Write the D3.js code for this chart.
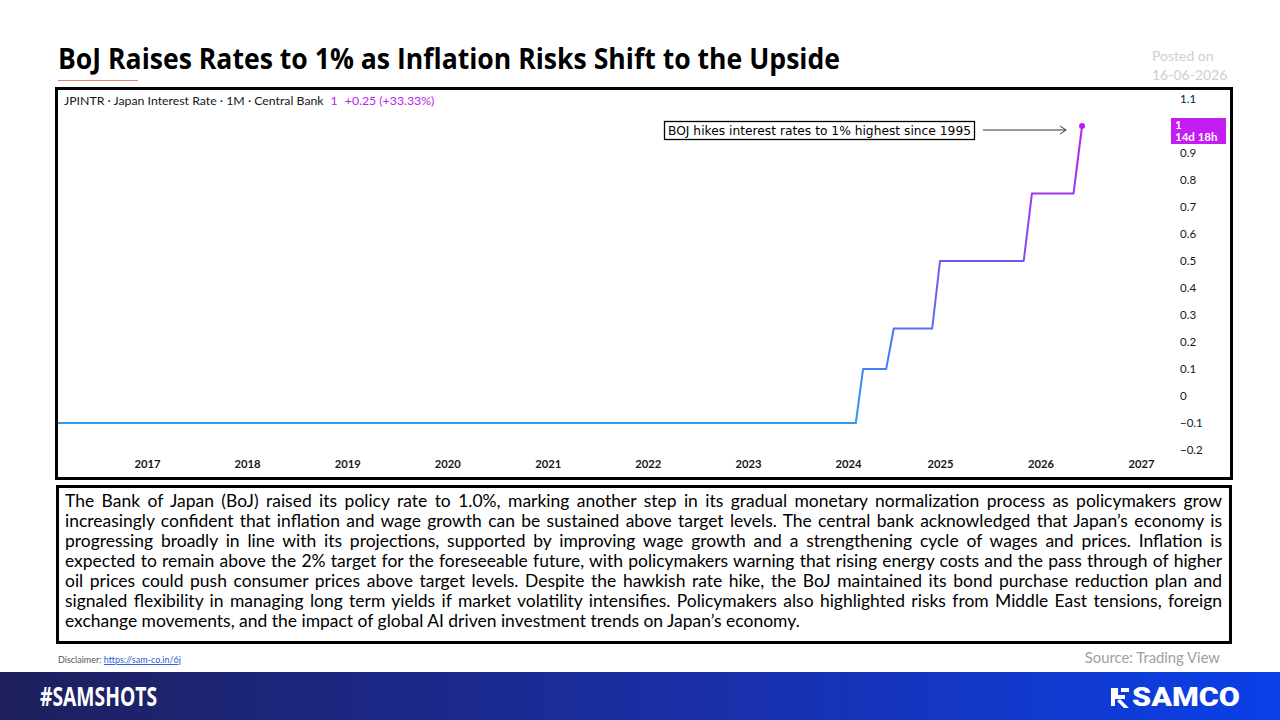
<!DOCTYPE html>
<html>
<head>
<meta charset="utf-8">
<script src="https://cdn.jsdelivr.net/npm/d3@7"></script>
<style>
  body { margin: 0; width: 1280px; height: 720px; overflow: hidden; background: #fff; position: relative; }
  svg { position: absolute; left: 0; top: 0; }
  #para { position: absolute; left: 65px; top: 491px; width: 1157px; font-family: Lato, "Open Sans", sans-serif; font-size: 17px; line-height: 20px; color: #000; }
  #para div { text-align: justify; text-align-last: justify; white-space: nowrap; }
  #para div.last { text-align-last: left; }
</style>
</head>
<body>
<div id="para"></div>
<script>
// monthly points where the rate changes
var rateDates = ["2016-02", "2024-02", "2024-03", "2024-06", "2024-07", "2024-12", "2025-01", "2025-11", "2025-12", "2026-05", "2026-06"];
var rateValues = [-0.1, -0.1, 0.1, 0.1, 0.25, 0.25, 0.5, 0.5, 0.75, 0.75, 1.0];
var yearTicks = ["2017", "2018", "2019", "2020", "2021", "2022", "2023", "2024", "2025", "2026", "2027"];
var rateTicks = [1.1, 0.9, 0.8, 0.7, 0.6, 0.5, 0.4, 0.3, 0.2, 0.1, 0, -0.1, -0.2];

var paraLines = [
  "The Bank of Japan (BoJ) raised its policy rate to 1.0%, marking another step in its gradual monetary normalization process as policymakers grow",
  "increasingly confident that inflation and wage growth can be sustained above target levels. The central bank acknowledged that Japan\u2019s economy is",
  "progressing broadly in line with its projections, supported by improving wage growth and a strengthening cycle of wages and prices. Inflation is",
  "expected to remain above the 2% target for the foreseeable future, with policymakers warning that rising energy costs and the pass through of higher",
  "oil prices could push consumer prices above target levels. Despite the hawkish rate hike, the BoJ maintained its bond purchase reduction plan and",
  "signaled flexibility in managing long term yields if market volatility intensifies. Policymakers also highlighted risks from Middle East tensions, foreign",
  "exchange movements, and the impact of global AI driven investment trends on Japan\u2019s economy."
];

var parseMonth = d3.timeParse("%Y-%m");
var parseYear = d3.timeParse("%Y");
var data = rateDates.map(function(d, i) { return { date: parseMonth(d), value: rateValues[i] }; });

var svg = d3.select("body").append("svg")
  .attr("width", 1280)
  .attr("height", 720);

var defs = svg.append("defs");

// title (squeezed to look like the condensed face of the original)
svg.append("text")
  .attr("x", 58).attr("y", 69)
  .attr("font-family", "'Open Sans', sans-serif")
  .attr("font-weight", "bold")
  .attr("font-size", 28)
  .attr("textLength", 782)
  .attr("lengthAdjust", "spacingAndGlyphs")
  .attr("fill", "#000")
  .text("BoJ Raises Rates to 1% as Inflation Risks Shift to the Upside");

svg.append("line")
  .attr("x1", 58).attr("x2", 138).attr("y1", 80.5).attr("y2", 80.5)
  .attr("stroke", "#e0866a").attr("stroke-width", 1.2);

svg.append("text")
  .attr("x", 1152).attr("y", 61)
  .attr("font-family", "Lato, sans-serif").attr("font-size", 14)
  .attr("fill", "#cfcfcf").text("Posted on");
svg.append("text")
  .attr("x", 1152).attr("y", 80)
  .attr("font-family", "Lato, sans-serif").attr("font-size", 14)
  .attr("fill", "#cfcfcf").text("16-06-2026");

// scales
var x = d3.scaleTime()
  .domain([parseYear("2017"), parseYear("2024"), parseYear("2025"), parseYear("2027")])
  .range([147, 848, 940, 1141]);
var y = d3.scaleLinear().domain([-0.2, 1.1]).range([450, 99]);

defs.append("clipPath").attr("id", "plotclip")
  .append("rect").attr("x", 58).attr("y", 90).attr("width", 1110).attr("height", 386);

var grad = defs.append("linearGradient")
  .attr("id", "lineGrad")
  .attr("gradientUnits", "userSpaceOnUse")
  .attr("x1", 0).attr("x2", 0)
  .attr("y1", y(-0.1)).attr("y2", y(1.0));
grad.append("stop").attr("offset", "0%").attr("stop-color", "#2a9df4");
grad.append("stop").attr("offset", "45%").attr("stop-color", "#6a5cf2");
grad.append("stop").attr("offset", "100%").attr("stop-color", "#c21cf2");

// chart frame
svg.append("rect")
  .attr("x", 56.5).attr("y", 88.5).attr("width", 1175).attr("height", 390)
  .attr("fill", "none").attr("stroke", "#000").attr("stroke-width", 3);

// legend line
var legend = svg.append("text")
  .attr("x", 64).attr("y", 105)
  .attr("font-family", "Lato, sans-serif").attr("font-size", 12.3)
  .attr("fill", "#131722");
legend.append("tspan").text("JPINTR \u00b7 Japan Interest Rate \u00b7 1M \u00b7 Central Bank");
legend.append("tspan").attr("fill", "#b81ee8").attr("dx", 7).text("1");
legend.append("tspan").attr("fill", "#b81ee8").attr("dx", 7).text("+0.25 (+33.33%)");

// axes
var xAxis = svg.append("g")
  .attr("transform", "translate(0,455)")
  .call(d3.axisBottom(x)
    .tickValues(yearTicks.map(function(d) { return parseYear(d); }))
    .tickFormat(d3.timeFormat("%Y"))
    .tickSize(0).tickPadding(5));
xAxis.select(".domain").remove();
xAxis.selectAll("text")
  .attr("font-family", "Lato, sans-serif")
  .attr("font-weight", "bold")
  .attr("font-size", 11.5)
  .attr("textLength", 26)
  .attr("lengthAdjust", "spacingAndGlyphs")
  .attr("fill", "#131722");

var yAxis = svg.append("g")
  .attr("transform", "translate(1172,0)")
  .call(d3.axisRight(y)
    .tickValues(rateTicks)
    .tickFormat(d3.format(".1~f"))
    .tickSize(0).tickPadding(8));
yAxis.select(".domain").remove();
yAxis.selectAll("text")
  .attr("font-family", "Lato, sans-serif")
  .attr("font-size", 11.5)
  .attr("fill", "#131722");

// rate line
var line = d3.line()
  .x(function(d) { return x(d.date); })
  .y(function(d) { return y(d.value); });

svg.append("path")
  .datum(data)
  .attr("clip-path", "url(#plotclip)")
  .attr("d", line)
  .attr("fill", "none")
  .attr("stroke", "url(#lineGrad)")
  .attr("stroke-width", 2)
  .attr("stroke-linejoin", "round");

var last = data[data.length - 1];
svg.append("circle")
  .attr("cx", x(last.date)).attr("cy", y(last.value))
  .attr("r", 3).attr("fill", "#c21cf2");

// price label on the axis
var tag = svg.append("g").attr("transform", "translate(1171," + (y(last.value) - 8) + ")");
tag.append("rect").attr("width", 55).attr("height", 26).attr("fill", "#c41cf5");
tag.append("text").attr("x", 4).attr("y", 11)
  .attr("font-family", "Lato, sans-serif").attr("font-weight", "bold")
  .attr("font-size", 11.5).attr("fill", "#fff").text(d3.format("~g")(last.value));
tag.append("text").attr("x", 4).attr("y", 23)
  .attr("font-family", "Lato, sans-serif").attr("font-weight", "bold")
  .attr("font-size", 11.5).attr("fill", "#fff").text("14d 18h");

// annotation
var ann = svg.append("g");
ann.append("text")
  .attr("x", 668).attr("y", 135)
  .attr("font-family", "'DejaVu Sans', Verdana, sans-serif")
  .attr("font-size", 12.4)
  .attr("textLength", 303)
  .attr("lengthAdjust", "spacingAndGlyphs")
  .attr("fill", "#000")
  .text("BOJ hikes interest rates to 1% highest since 1995");
ann.append("rect")
  .attr("x", 664.5).attr("y", 121.5).attr("width", 310).attr("height", 18)
  .attr("fill", "none").attr("stroke", "#000").attr("stroke-width", 1.3);
var ax0 = 983, ax1 = x(last.date) - 16, ay = y(last.value) + 4;
ann.append("line")
  .attr("x1", ax0).attr("x2", ax1).attr("y1", ay).attr("y2", ay)
  .attr("stroke", "#333").attr("stroke-width", 1);
ann.append("path")
  .attr("d", "M" + (ax1 - 6) + "," + (ay - 4) + "L" + ax1 + "," + ay + "L" + (ax1 - 6) + "," + (ay + 4))
  .attr("fill", "none").attr("stroke", "#333").attr("stroke-width", 1);

// text box
svg.append("rect")
  .attr("x", 57.5).attr("y", 486.5).attr("width", 1173).attr("height", 156)
  .attr("fill", "none").attr("stroke", "#000").attr("stroke-width", 3);

// pick the paragraph size so that the lines fit the box like the original
var ctx = document.createElement("canvas").getContext("2d");
ctx.font = "17px Lato";
var widest = d3.max(paraLines.slice(0, -1), function(d) { return ctx.measureText(d).width; });
var lastW = ctx.measureText(paraLines[paraLines.length - 1]).width;
var paraSize = Math.min(17 * 737 / lastW, 17 * 1150 / widest);
d3.select("#para").style("font-size", paraSize + "px");

d3.select("#para").selectAll("div")
  .data(paraLines)
  .enter().append("div")
  .attr("class", function(d, i) { return i === paraLines.length - 1 ? "last" : null; })
  .text(function(d) { return d; });

// disclaimer + source
var disc = svg.append("text")
  .attr("x", 58).attr("y", 663)
  .attr("font-family", "Lato, sans-serif")
  .attr("font-size", 9.5).attr("fill", "#555")
  .attr("textLength", 123)
  .attr("lengthAdjust", "spacingAndGlyphs");
disc.append("tspan").text("Disclaimer: ");
disc.append("tspan").attr("fill", "#2b5bd6").attr("text-decoration", "underline").text("https://sam-co.in/6j");

svg.append("text")
  .attr("x", 1220).attr("y", 663)
  .attr("text-anchor", "end")
  .attr("font-family", "Lato, sans-serif").attr("font-size", 14.8)
  .attr("fill", "#a0a0a0").text("Source: Trading View");

// footer band
var fg = defs.append("linearGradient").attr("id", "footGrad");
fg.append("stop").attr("offset", "0%").attr("stop-color", "#1e1f5c");
fg.append("stop").attr("offset", "55%").attr("stop-color", "#1a2fa8");
fg.append("stop").attr("offset", "100%").attr("stop-color", "#0a40e8");
svg.append("rect")
  .attr("x", 0).attr("y", 672).attr("width", 1280).attr("height", 48)
  .attr("fill", "url(#footGrad)");

svg.append("text")
  .attr("x", 40).attr("y", 706)
  .attr("font-family", "'Open Sans', sans-serif")
  .attr("font-weight", "bold").attr("font-size", 27)
  .attr("textLength", 117)
  .attr("lengthAdjust", "spacingAndGlyphs")
  .attr("fill", "#fff").text("#SAMSHOTS");

var logo = svg.append("g").attr("transform", "translate(1111,686)");
logo.append("path")
  .attr("d", "M0,2 L7,2 L7,9 L14,9 L14,13 L4,13 L4,20 L0,20 Z M9,13 L18,22 L13,22 L6,15 Z M10,2 L18,2 L18,6 L10,6 Z")
  .attr("fill", "#fff");
svg.append("text")
  .attr("x", 1132).attr("y", 706)
  .attr("font-family", "Roboto, sans-serif")
  .attr("font-weight", "900").attr("font-size", 25)
  .attr("textLength", 108)
  .attr("lengthAdjust", "spacingAndGlyphs")
  .attr("fill", "#fff").text("SAMCO");
</script>
</body>
</html>
